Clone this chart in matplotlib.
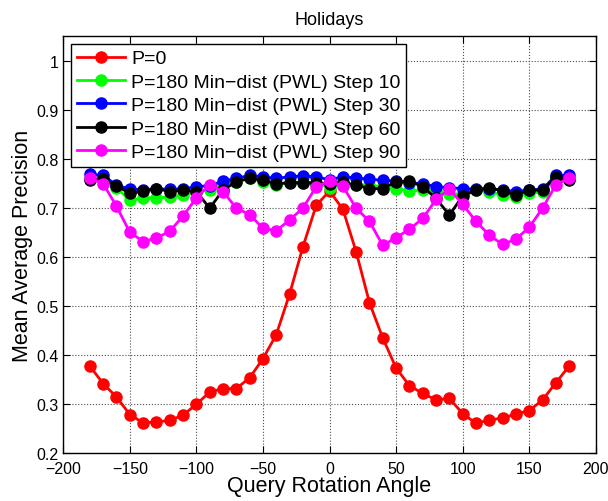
import numpy as np
import matplotlib
matplotlib.use('Agg')
import matplotlib.pyplot as plt

plt.rcParams['font.family'] = ['Liberation Sans', 'DejaVu Sans']
plt.rcParams['axes.unicode_minus'] = True

angles = list(range(-180, 181, 10))

p0 = [0.377, 0.341, 0.314, 0.278, 0.261, 0.263, 0.266, 0.277, 0.299, 0.324,
      0.331, 0.331, 0.353, 0.392, 0.441, 0.524, 0.620, 0.705, 0.734, 0.697,
      0.610, 0.506, 0.434, 0.373, 0.337, 0.321, 0.308, 0.311, 0.280, 0.260,
      0.267, 0.271, 0.279, 0.286, 0.308, 0.343, 0.377]

step10 = [0.760, 0.758, 0.741, 0.715, 0.720, 0.720, 0.722, 0.726, 0.733, 0.736,
          0.749, 0.753, 0.760, 0.753, 0.746, 0.753, 0.751, 0.749, 0.741, 0.749,
          0.746, 0.746, 0.743, 0.739, 0.734, 0.736, 0.734, 0.727, 0.729, 0.736,
          0.733, 0.726, 0.722, 0.729, 0.733, 0.760, 0.758]

step30 = [0.768, 0.766, 0.746, 0.738, 0.737, 0.738, 0.738, 0.738, 0.743, 0.745,
          0.754, 0.760, 0.766, 0.763, 0.760, 0.763, 0.765, 0.763, 0.757, 0.763,
          0.761, 0.758, 0.756, 0.754, 0.751, 0.749, 0.743, 0.741, 0.739, 0.738,
          0.739, 0.736, 0.733, 0.736, 0.738, 0.766, 0.766]

step60 = [0.756, 0.758, 0.745, 0.729, 0.734, 0.739, 0.733, 0.736, 0.733, 0.699,
          0.736, 0.753, 0.760, 0.756, 0.749, 0.751, 0.751, 0.751, 0.748, 0.752,
          0.746, 0.739, 0.739, 0.753, 0.754, 0.743, 0.719, 0.685, 0.724, 0.736,
          0.741, 0.734, 0.726, 0.736, 0.736, 0.763, 0.756]

step90 = [0.760, 0.749, 0.703, 0.650, 0.631, 0.638, 0.652, 0.683, 0.720, 0.747,
          0.733, 0.699, 0.686, 0.658, 0.653, 0.675, 0.699, 0.743, 0.754, 0.744,
          0.699, 0.672, 0.623, 0.639, 0.656, 0.678, 0.717, 0.738, 0.707, 0.672,
          0.644, 0.625, 0.636, 0.660, 0.699, 0.747, 0.760]

series = [
    (p0, 'red', 'P=0'),
    (step10, 'lime', 'P=180 Min\u2212dist (PWL) Step 10'),
    (step30, 'blue', 'P=180 Min\u2212dist (PWL) Step 30'),
    (step60, 'black', 'P=180 Min\u2212dist (PWL) Step 60'),
    (step90, 'magenta', 'P=180 Min\u2212dist (PWL) Step 90'),
]

fig = plt.figure(figsize=(6.08, 5.02), dpi=100)
ax = fig.add_axes([0.104, 0.096, 0.876, 0.830])

for vals, col, lab in series:
    ax.plot(angles, vals, '-o', color=col, lw=2, ms=8, label=lab)

ax.set_xlim(-200, 200)
ax.set_ylim(0.2, 1.05)
ax.set_xticks(np.arange(-200, 201, 50))
ax.set_yticks(np.arange(0.2, 1.01, 0.1))
ax.set_yticklabels(['0.2', '0.3', '0.4', '0.5', '0.6', '0.7', '0.8', '0.9', '1'])
ax.tick_params(direction='in', top=True, right=True, labelsize=11.5, length=5)
ax.tick_params(axis='x', pad=6)
ax.grid(True, linestyle=':', color='0.3', linewidth=0.8)
for s in ax.spines.values():
    s.set_linewidth(1.0)

ax.set_title('Holidays', fontsize=13, pad=9)
ax.set_xlabel('Query Rotation Angle', fontsize=15.5, labelpad=-1)
ax.set_ylabel('Mean Average Precision', fontsize=15.5, labelpad=2)

leg = ax.legend(loc='upper left', fontsize=14, fancybox=False, framealpha=1,
                edgecolor='black', handlelength=2.5, borderpad=0.3,
                labelspacing=0.3, handletextpad=0.3, borderaxespad=0.4)
leg.get_frame().set_linewidth(1.0)

fig.savefig('out.png', dpi=100)
